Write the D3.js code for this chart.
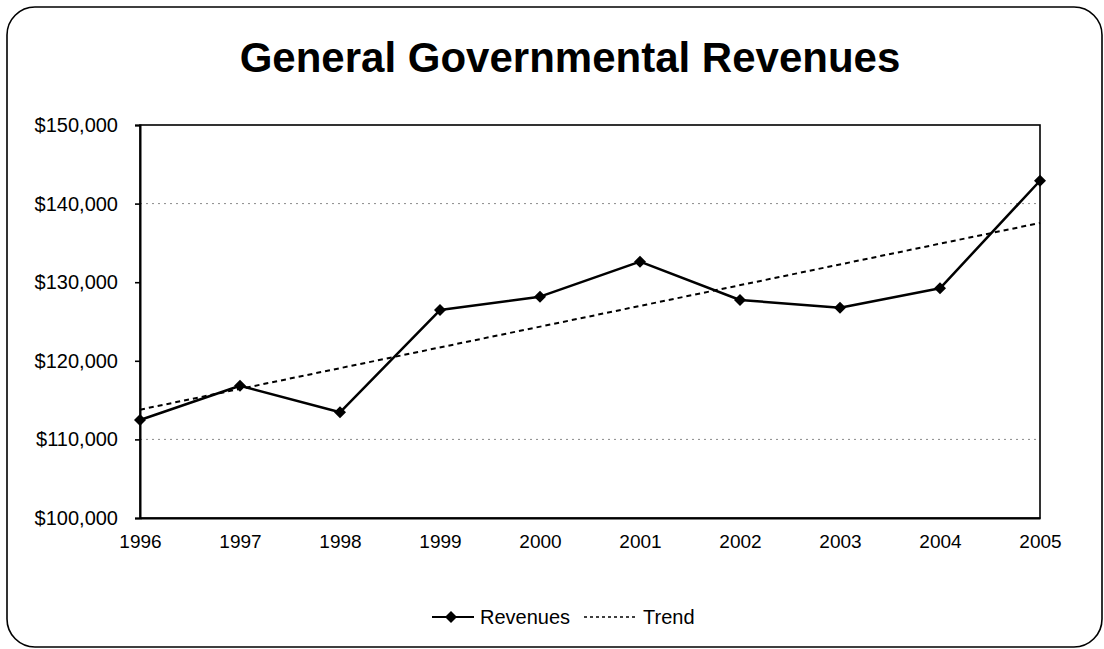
<!DOCTYPE html>
<html>
<head>
<meta charset="utf-8">
<script src="https://cdn.jsdelivr.net/npm/d3@7"></script>
<style>
  html, body { margin: 0; padding: 0; background: #fff; }
  svg { display: block; font-family: "Liberation Sans", Arial, sans-serif; }
</style>
</head>
<body>
<svg id="chart" width="1104" height="649"></svg>
<script>
// Fiscal years and general governmental revenues (dollars)
const years = [1996, 1997, 1998, 1999, 2000, 2001, 2002, 2003, 2004, 2005];
const revenues = [112470, 116830, 113450, 126460, 128160, 132610, 127740, 126760, 129220, 142910];
const yTicks = [100000, 110000, 120000, 130000, 140000, 150000];
const gridValues = [110000, 140000];
const titleText = "General Governmental Revenues";
const legendLabels = ["Revenues", "Trend"];

const svg = d3.select("#chart");
const W = 1104, H = 649;
const margin = { left: 140, right: 64, top: 125, bottom: 131 };
const plotW = W - margin.left - margin.right;
const plotH = H - margin.top - margin.bottom;

// Rounded outer frame
svg.append("rect")
  .attr("x", 7).attr("y", 7)
  .attr("width", W - 9).attr("height", H - 9)
  .attr("rx", 28).attr("ry", 28)
  .attr("fill", "#fff").attr("stroke", "#000").attr("stroke-width", 1.6);

// Title
svg.append("text")
  .attr("x", 570).attr("y", 72)
  .attr("text-anchor", "middle")
  .attr("font-size", 42).attr("font-weight", "bold")
  .text(titleText);

const g = svg.append("g").attr("transform", `translate(${margin.left},${margin.top})`);

const x = d3.scaleLinear().domain(d3.extent(years)).range([0, plotW]);
const y = d3.scaleLinear().domain([100000, 150000]).range([plotH, 0]);

// Dotted gridlines
g.append("g").selectAll("line").data(gridValues).join("line")
  .attr("x1", 0).attr("x2", plotW)
  .attr("y1", d => y(d)).attr("y2", d => y(d))
  .attr("stroke", "#8a8a8a").attr("stroke-width", 1)
  .attr("stroke-dasharray", "2,4");

// Plot area border
g.append("rect")
  .attr("x", 0).attr("y", 0).attr("width", plotW).attr("height", plotH)
  .attr("fill", "none").attr("stroke", "#000").attr("stroke-width", 1.6);

// Y axis
const fmt = d => "$" + d3.format(",")(d);
const yAxis = g.append("g")
  .call(d3.axisLeft(y).tickValues(yTicks).tickFormat(fmt).tickSize(5).tickPadding(17));
yAxis.select(".domain").attr("stroke", "#000").attr("stroke-width", 2);
yAxis.selectAll(".tick line").attr("stroke", "#000").attr("stroke-width", 1.6);
yAxis.selectAll("text").attr("font-size", 20).attr("fill", "#000")
  .attr("font-family", "Liberation Sans, Arial, sans-serif");

// X axis
const xAxis = g.append("g").attr("transform", `translate(0,${plotH})`)
  .call(d3.axisBottom(x).tickValues(years).tickFormat(d3.format("d")).tickSize(0).tickPadding(17));
xAxis.select(".domain").attr("stroke", "#000").attr("stroke-width", 2);
xAxis.selectAll("text").attr("font-size", 19).attr("fill", "#000")
  .attr("font-family", "Liberation Sans, Arial, sans-serif");

// Least-squares linear trend over the revenue series
const n = years.length;
const mx = d3.mean(years), my = d3.mean(revenues);
const slope = d3.sum(years, (xv, i) => (xv - mx) * (revenues[i] - my)) /
              d3.sum(years, xv => (xv - mx) * (xv - mx));
const intercept = my - slope * mx;
const trendPts = [years[0], years[n - 1]].map(xv => [xv, intercept + slope * xv]);

g.append("path")
  .datum(trendPts)
  .attr("fill", "none").attr("stroke", "#000").attr("stroke-width", 2)
  .attr("stroke-dasharray", "5,4")
  .attr("d", d3.line().x(d => x(d[0])).y(d => y(d[1])));

// Revenue line
const pts = years.map((yr, i) => [yr, revenues[i]]);
g.append("path")
  .datum(pts)
  .attr("fill", "none").attr("stroke", "#000").attr("stroke-width", 2.5)
  .attr("stroke-linejoin", "round")
  .attr("d", d3.line().x(d => x(d[0])).y(d => y(d[1])));

// Diamond markers (square rotated 45 degrees)
const diamond = {
  draw(ctx, size) {
    const r = Math.sqrt(size / 2);
    ctx.moveTo(0, -r); ctx.lineTo(r, 0); ctx.lineTo(0, r); ctx.lineTo(-r, 0); ctx.closePath();
  }
};
const sym = d3.symbol().type(diamond).size(72);
g.append("g").selectAll("path").data(pts).join("path")
  .attr("transform", d => `translate(${x(d[0])},${y(d[1])})`)
  .attr("d", sym).attr("fill", "#000");

// Legend
const lg = svg.append("g").attr("transform", "translate(0,617)");
lg.append("line").attr("x1", 432).attr("x2", 474).attr("y1", 0).attr("y2", 0)
  .attr("stroke", "#000").attr("stroke-width", 2);
lg.append("path").attr("transform", "translate(451,0)").attr("d", sym).attr("fill", "#000");
lg.append("text").attr("x", 480).attr("y", 0).attr("dy", "0.36em")
  .attr("font-size", 20).text(legendLabels[0]);
lg.append("line").attr("x1", 584).attr("x2", 636).attr("y1", 0).attr("y2", 0)
  .attr("stroke", "#000").attr("stroke-width", 1.5).attr("stroke-dasharray", "3,3");
lg.append("text").attr("x", 643).attr("y", 0).attr("dy", "0.36em")
  .attr("font-size", 20).text(legendLabels[1]);
</script>
</body>
</html>
